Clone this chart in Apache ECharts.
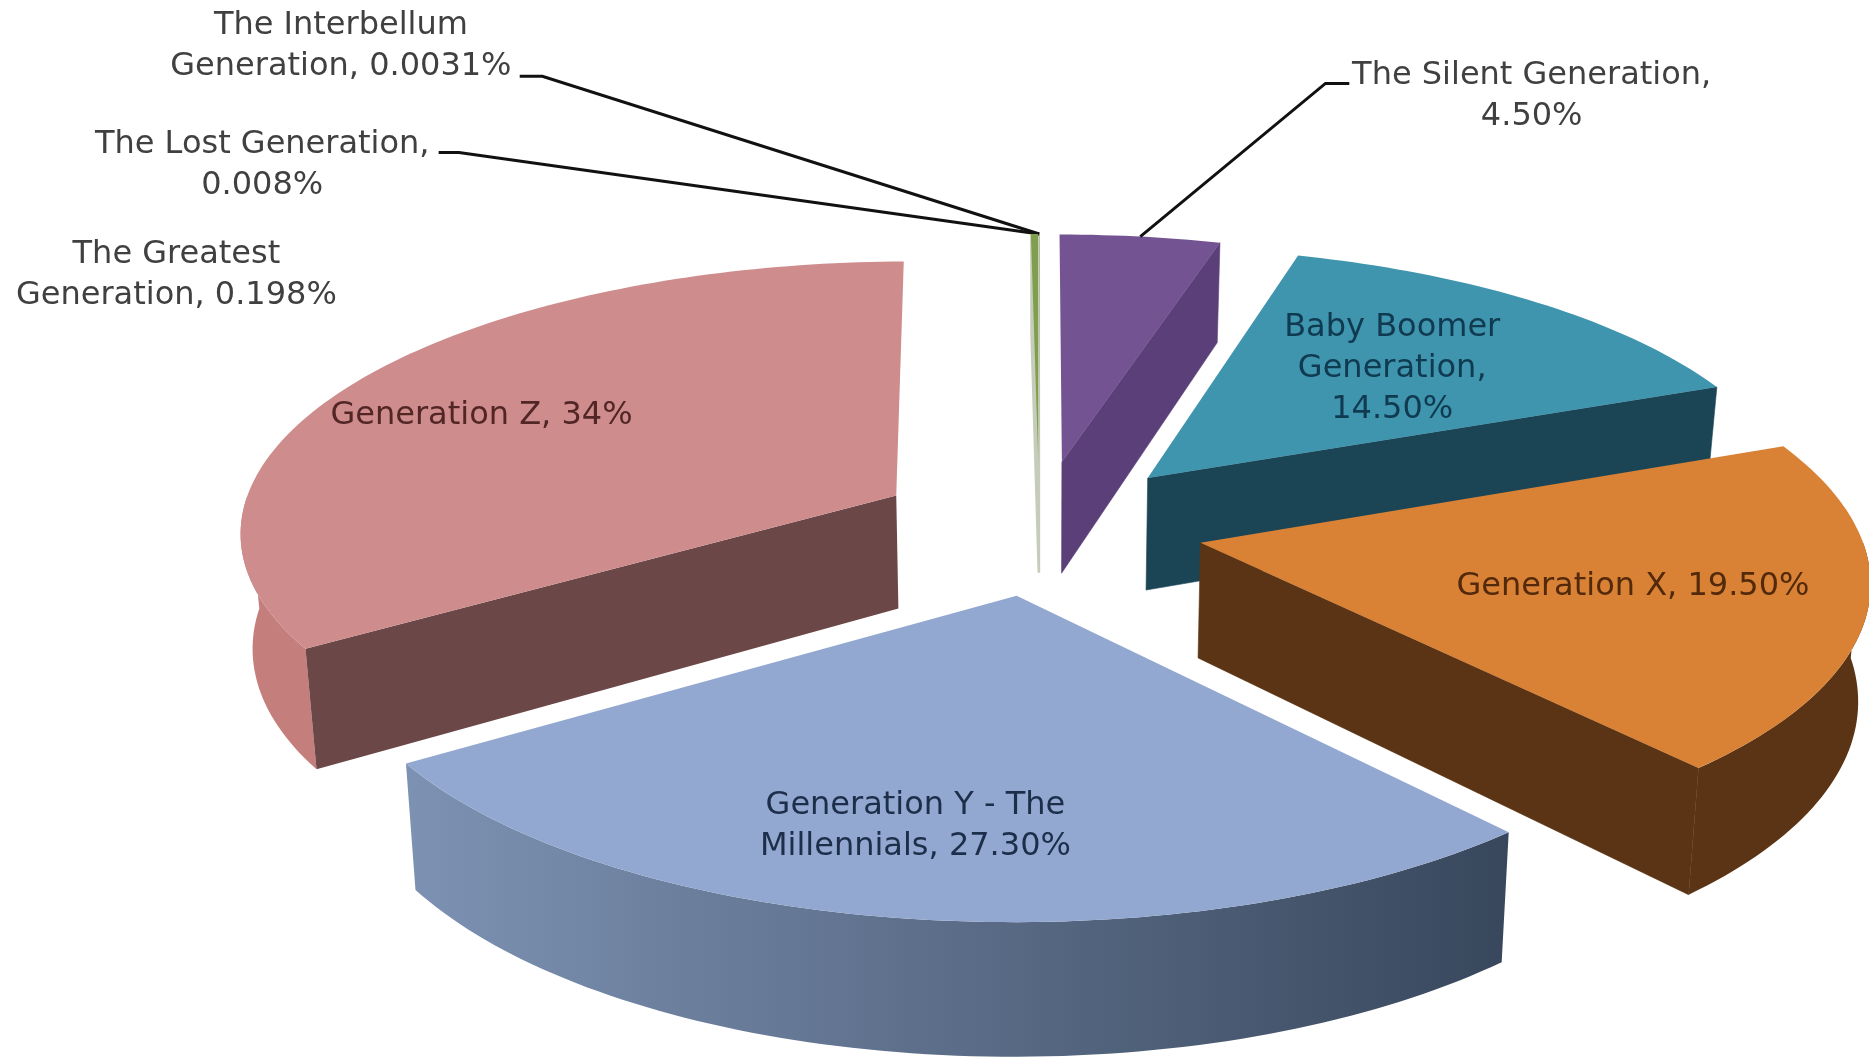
<!DOCTYPE html>
<html><head><meta charset="utf-8">
<style>html,body{margin:0;padding:0;background:#fff}#c{width:1869px;height:1059px;filter:blur(0.6px)}</style>
<script src="https://cdn.jsdelivr.net/npm/echarts@6/dist/echarts.min.js"></script>
</head><body><div id="c"></div>
<script>
// ---- data ----
const generations = ['The Silent Generation','Baby Boomer Generation','Generation X','Generation Y - The Millennials','Generation Z','The Greatest Generation','The Lost Generation','The Interbellum Generation'];
const shares = [4.5,14.5,19.5,27.3,34,0.198,0.008,0.0031];
const labelLines = [
  ['The Silent Generation,','4.50%'],
  ['Baby Boomer','Generation,','14.50%'],
  ['Generation X, 19.50%'],
  ['Generation Y - The','Millennials, 27.30%'],
  ['Generation Z, 34%'],
  ['The Greatest','Generation, 0.198%'],
  ['The Lost Generation,','0.008%'],
  ['The Interbellum','Generation, 0.0031%']
];
// ---- style / layout ----
const topColors  = ['#735392','#3f94ae','#d98236','#92a8d0','#cf8c8c','#7f9f4e','#7f9f4e','#7f9f4e'];
const cutColors  = ['#5a3f78','#1b4455','#5a3414','#5a6c8a','#6b4748','#c6ccba','#c6ccba','#c6ccba'];
const rimLeft    = ['#5a3f78','#1b4455','#5a3414','#7d92b3','#c47e7c','#c6ccba','#c6ccba','#c6ccba'];
const rimRight   = ['#5a3f78','#1b4455','#5a3414','#38475c','#c47e7c','#c6ccba','#c6ccba','#c6ccba'];
const textColors = ['#404040','#0f3a50','#52290a','#1c2e49','#522626','#404040','#404040','#404040'];
const labelCenter = [[1285,81],[1168,309],[1370,492],[768,693],[404,349],[148,231],[220,139],[286,39]];
const leaders = [[[1132,70],[1112,70]],null,null,null,null,null,[[368,128],[385,128]],[[436,64],[455,64]]];
const paintOrder = [0,7,6,5,4,1,2,3];
const S = 1869/1568, CX=872, CY=442, R=552, B=226, P=0.12, DEPTH=96, EXPLODE=0.25, TAPER=0.985;
const FONT = '"DejaVu Sans"', FS = 32, LH = 41;

const total = shares.reduce((a,b)=>a+b,0);
let run = 0;
const spans = shares.map(v=>{const a=run/total*2*Math.PI; run+=v; return [a, run/total*2*Math.PI];});

function proj(u,v,low){
  const w=1-P*v;
  const x=R*u/w, y=B*v/w+(low?DEPTH/w:0);
  return [(CX+x*(low?TAPER:1))*S,(CY+y)*S];
}
function renderItem(params, api){
  const i = api.value(0);
  const [a0,a1] = spans[i], mid=(a0+a1)/2;
  const eu=EXPLODE*Math.sin(mid), ev=-EXPLODE*Math.cos(mid);
  const topP = t=>proj(eu+Math.sin(t),ev-Math.cos(t),false);
  const botP = t=>proj(eu+Math.sin(t),ev-Math.cos(t),true);
  const apexT=proj(eu,ev,false), apexB=proj(eu,ev,true);
  const arc=(f,s,e)=>{const n=Math.max(2,Math.ceil((e-s)/0.02));const r=[];for(let k=0;k<=n;k++)r.push(f(s+(e-s)*k/n));return r;};
  const ch=[];
  // outer rim (front half of the pie only)
  const r0=Math.max(a0,Math.PI/2), r1=Math.min(a1,Math.PI*1.5);
  if(r1>r0){
    const pts=arc(topP,r0,r1).concat(arc(botP,r0,r1).reverse());
    ch.push({type:'polygon',shape:{points:pts},style:{fill:new echarts.graphic.LinearGradient(0,0,1,0,[{offset:0,color:rimLeft[i]},{offset:1,color:rimRight[i]}])}});
  }
  // cut faces
  const thin = i>=5;
  if(a1<Math.PI){
    ch.push({type:'polygon',shape:{points:[apexT,topP(a1),botP(a1),apexB]},style:{fill:cutColors[i],stroke:cutColors[i],lineWidth:0.6}});
  }
  if(a0>Math.PI){
    ch.push({type:'polygon',shape:{points:[apexT,topP(a0),botP(a0),apexB]},style:{fill:cutColors[i],stroke:thin?cutColors[i]:null,lineWidth:thin?1.5:0}});
  }
  // top face
  ch.push({type:'polygon',shape:{points:[apexT].concat(arc(topP,a0,a1))},style:{fill:topColors[i]}});
  // leader line to the middle of the slice's outer edge
  if(leaders[i]){
    const end=topP(mid);
    ch.push({type:'polyline',shape:{points:leaders[i].map(p=>[p[0]*S,p[1]*S]).concat([end])},style:{stroke:'#111',lineWidth:3,fill:null}});
  }
  // label
  const lc=labelCenter[i], lines=labelLines[i];
  lines.forEach((t,k)=>{
    ch.push({type:'text',style:{text:t,x:lc[0]*S,y:lc[1]*S+(k-(lines.length-1)/2)*LH,align:'center',verticalAlign:'middle',fill:textColors[i],font:FS+'px '+FONT}});
  });
  return {type:'group',children:ch};
}
const chart = echarts.init(document.getElementById('c'),null,{renderer:'canvas'});
chart.setOption({
  backgroundColor:'#ffffff',
  animation:false,
  series:[{type:'custom',coordinateSystem:'none',renderItem,clip:false,silent:true,
    data:paintOrder.map(i=>({name:generations[i],value:[i,shares[i]]}))}]
});
</script></body></html>
